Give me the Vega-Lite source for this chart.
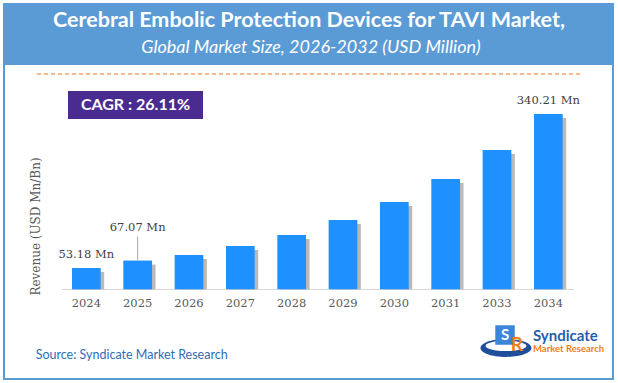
{
  "$schema": "https://vega.github.io/schema/vega-lite/v6.json",
  "width": 609,
  "height": 375,
  "autosize": {"type": "none"},
  "padding": {"left": 4, "top": 4, "right": 5, "bottom": 4},
  "background": "white",
  "config": {"view": {"stroke": "#5b9bd5", "strokeWidth": 2}},
  "resolve": {"scale": {"x": "independent", "y": "independent"}, "axis": {"x": "independent", "y": "independent"}},
  "layer": [
    {
      "data": {"values": [{}]},
      "layer": [
        {
          "mark": {"type": "rect", "color": "#5b9bd5"},
          "encoding": {
            "x": {"datum": 0, "type": "quantitative", "scale": {"domain": [0, 1], "nice": false, "zero": false}, "axis": null},
            "x2": {"datum": 1},
            "y": {"datum": 1, "type": "quantitative", "scale": {"domain": [0, 1], "nice": false, "zero": false}, "axis": null},
            "y2": {"datum": 0.8373}
          }
        },
        {
          "mark": {"type": "text", "text": "Cerebral Embolic Protection Devices for TAVI Market,", "font": "Lato", "fontSize": 21.5, "fontWeight": "bold", "color": "white", "align": "center", "baseline": "middle"},
          "encoding": {
            "x": {"datum": 0.5008, "type": "quantitative"},
            "y": {"datum": 0.9547, "type": "quantitative"}
          }
        },
        {
          "mark": {"type": "text", "text": "Global Market Size, 2026-2032 (USD Million)", "font": "Lato", "fontSize": 18, "fontStyle": "italic", "color": "white", "align": "center", "baseline": "middle"},
          "encoding": {
            "x": {"datum": 0.504, "type": "quantitative"},
            "y": {"datum": 0.8827, "type": "quantitative"}
          }
        },
        {
          "mark": {"type": "rule", "color": "#f2a36b", "strokeDash": [4, 3], "strokeWidth": 1.5},
          "encoding": {
            "x": {"datum": 0.0542, "type": "quantitative"},
            "x2": {"datum": 0.9475},
            "y": {"datum": 0.8133, "type": "quantitative"}
          }
        },
        {
          "mark": {"type": "rect", "color": "#4a2c91"},
          "encoding": {
            "x": {"datum": 0.1051, "type": "quantitative"},
            "x2": {"datum": 0.3268},
            "y": {"datum": 0.768, "type": "quantitative"},
            "y2": {"datum": 0.6933}
          }
        },
        {
          "mark": {"type": "text", "text": "CAGR :  26.11%", "font": "Lato", "fontSize": 16, "fontWeight": "bold", "color": "white", "align": "center", "baseline": "middle"},
          "encoding": {
            "x": {"datum": 0.2159, "type": "quantitative"},
            "y": {"datum": 0.7307, "type": "quantitative"}
          }
        },
        {
          "mark": {"type": "rule", "color": "#d9d9d9", "strokeWidth": 1},
          "encoding": {
            "x": {"datum": 0.0952, "type": "quantitative"},
            "x2": {"datum": 0.936},
            "y": {"datum": 0.2387, "type": "quantitative"}
          }
        },
        {
          "mark": {"type": "text", "text": "Source: Syndicate Market Research", "font": "Lato", "fontSize": 12.5, "color": "#2e6eb5", "align": "left", "baseline": "middle"},
          "encoding": {
            "x": {"datum": 0.052, "type": "quantitative"},
            "y": {"datum": 0.064, "type": "quantitative"}
          }
        },
        {
          "mark": {"type": "point", "filled": true, "color": "#1f4e9a", "opacity": 1, "size": 2600, "shape": "M -1 0 C -1 -0.193 -0.552 -0.35 0 -0.35 C 0.552 -0.35 1 -0.193 1 0 C 1 0.193 0.552 0.35 0 0.35 C -0.552 0.35 -1 0.193 -1 0 Z M -0.8 -0.08 C -0.8 0.03 -0.442 0.12 0 0.12 C 0.442 0.12 0.8 0.03 0.8 -0.08 C 0.8 -0.19 0.442 -0.28 0 -0.28 C -0.442 -0.28 -0.8 -0.19 -0.8 -0.08 Z"},
          "encoding": {
            "x": {"datum": 0.8243, "type": "quantitative"},
            "y": {"datum": 0.0827, "type": "quantitative"}
          }
        },
        {
          "mark": {"type": "point", "filled": true, "color": "#3b86d8", "opacity": 1, "size": 380, "shape": "square"},
          "encoding": {
            "x": {"datum": 0.8227, "type": "quantitative"},
            "y": {"datum": 0.1173, "type": "quantitative"}
          }
        },
        {
          "mark": {"type": "text", "text": "S", "font": "Lato", "fontSize": 15, "fontWeight": "bold", "color": "white", "align": "center", "baseline": "middle"},
          "encoding": {
            "x": {"datum": 0.8227, "type": "quantitative"},
            "y": {"datum": 0.1173, "type": "quantitative"}
          }
        },
        {
          "mark": {"type": "text", "text": "R", "font": "Lato", "fontSize": 19, "fontWeight": "bold", "color": "#f07f1e", "align": "center", "baseline": "middle"},
          "encoding": {
            "x": {"datum": 0.842, "type": "quantitative"},
            "y": {"datum": 0.0907, "type": "quantitative"}
          }
        },
        {
          "mark": {"type": "text", "text": "Syndicate", "font": "Lato", "fontSize": 15, "fontWeight": "bold", "color": "#1f5fae", "align": "left", "baseline": "middle"},
          "encoding": {
            "x": {"datum": 0.8686, "type": "quantitative"},
            "y": {"datum": 0.1147, "type": "quantitative"}
          }
        },
        {
          "mark": {"type": "text", "text": "Market Research", "font": "Lato", "fontSize": 9.5, "fontWeight": "bold", "color": "#f07f1e", "align": "left", "baseline": "middle"},
          "encoding": {
            "x": {"datum": 0.8686, "type": "quantitative"},
            "y": {"datum": 0.08, "type": "quantitative"}
          }
        }
      ]
    },
    {
      "data": {
        "values": [
          {"year": "2024", "value": 53.18, "label": "53.18 Mn"},
          {"year": "2025", "value": 67.07, "label": "67.07 Mn"},
          {"year": "2026", "value": 77.4, "label": ""},
          {"year": "2027", "value": 94.2, "label": ""},
          {"year": "2028", "value": 114.7, "label": ""},
          {"year": "2029", "value": 142.6, "label": ""},
          {"year": "2030", "value": 176.2, "label": ""},
          {"year": "2031", "value": 219.1, "label": ""},
          {"year": "2033", "value": 273.1, "label": ""},
          {"year": "2034", "value": 340.21, "label": "340.21 Mn"}
        ]
      },
      "encoding": {
        "x": {
          "field": "year", "type": "nominal", "sort": null,
          "scale": {"paddingInner": 0.136, "paddingOuter": 1, "align": 0.586},
          "axis": {"title": null, "orient": "bottom", "offset": -89.7, "domain": false, "ticks": false, "grid": false, "labelAngle": 0, "labelFont": "DejaVu Serif", "labelFontSize": 11.5, "labelColor": "#595959", "labelPadding": 8}
        },
        "y": {
          "field": "value", "type": "quantitative",
          "scale": {"domain": [-153.69, 545.28], "nice": false, "zero": false},
          "axis": {"orient": "left", "title": "Revenue (USD Mn/Bn)", "titleFont": "DejaVu Serif", "titleFontSize": 12, "titleFontWeight": "normal", "titleColor": "#595959", "titleX": 31, "titleY": 222, "titleAngle": -90, "titleAlign": "center", "titleBaseline": "middle", "labels": false, "ticks": false, "domain": false, "grid": false}
        }
      },
      "layer": [
        {
          "mark": {"type": "bar", "color": "#7f7f7f", "opacity": 0.55, "xOffset": 3.5, "yOffset": 4, "width": {"band": 0.647}},
          "encoding": {"y2": {"datum": 13.5}}
        },
        {
          "mark": {"type": "bar", "color": "#1e90ff", "width": {"band": 0.647}},
          "encoding": {"y2": {"datum": 13.5}}
        },
        {
          "transform": [{"filter": "datum.year == '2024' || datum.year == '2034'"}],
          "mark": {"type": "text", "font": "DejaVu Serif", "fontSize": 11.5, "color": "#404040", "dy": -13, "baseline": "middle"},
          "encoding": {"text": {"field": "label"}}
        },
        {
          "transform": [{"filter": "datum.year == '2025'"}],
          "mark": {"type": "text", "font": "DejaVu Serif", "fontSize": 11.5, "color": "#404040", "dy": -33, "baseline": "middle"},
          "encoding": {"text": {"field": "label"}}
        },
        {
          "transform": [{"filter": "datum.year == '2025'"}],
          "mark": {"type": "rule", "color": "#a6a6a6", "strokeWidth": 1, "y2Offset": -24},
          "encoding": {"y2": {"field": "value"}}
        }
      ]
    }
  ]
}
